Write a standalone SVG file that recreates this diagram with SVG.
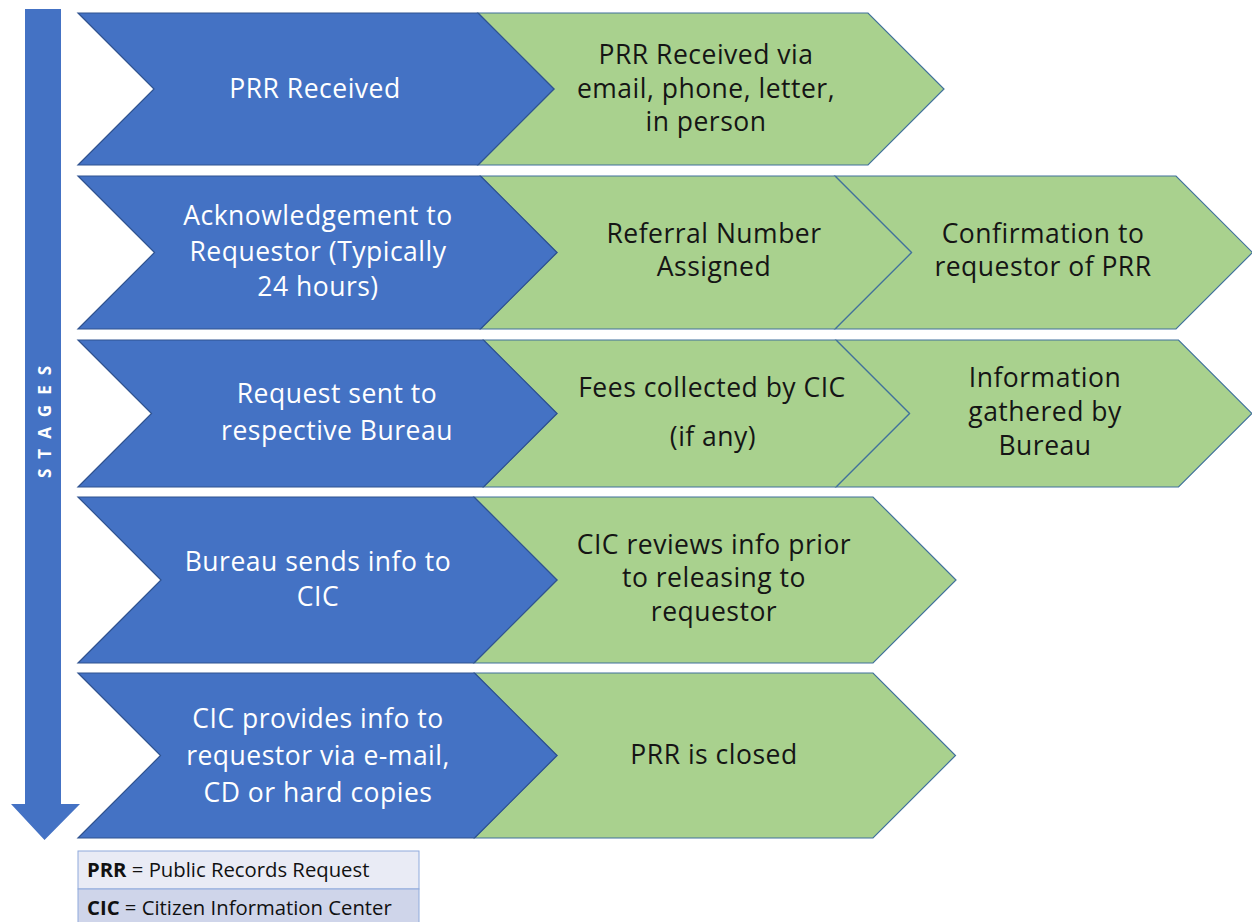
<svg xmlns="http://www.w3.org/2000/svg" width="1252" height="922" viewBox="0 0 1252 922">
<style>
.blue{fill:#4472c4;stroke:#2f528f;stroke-width:1.2}
.green{fill:#a9d18e;stroke:#41719c;stroke-width:1.2}
.wt{font-family:"Open Sans","Liberation Sans",sans-serif;font-size:26.5px;letter-spacing:0.5px;fill:#ffffff;text-anchor:middle}
.bt{font-family:"Open Sans","Liberation Sans",sans-serif;font-size:26.5px;letter-spacing:0.5px;fill:#151515;text-anchor:middle}
.lg{font-family:"Open Sans","Liberation Sans",sans-serif;font-size:20.3px;fill:#111}
</style>
<rect width="1252" height="922" fill="#ffffff"/>
<g id="stages">
<polygon points="25,9 61,9 61,804 80,804 44.5,840 11,804 25,804" fill="#4472c4"/>
<text transform="translate(44 417) rotate(-90)" x="0" y="0" font-family="Open Sans,Liberation Sans,sans-serif" font-size="17" font-weight="bold" fill="#ffffff" text-anchor="middle" dominant-baseline="central" letter-spacing="10">STAGES</text>
</g>
<g id="connectors"></g>
<g id="row1">
<polygon class="green" points="478,13 868,13 944,89 868,165 478,165 554,89"/>
<polygon class="blue" points="78,13 478,13 554,89 478,165 78,165 154,89"/>
<text class="wt" x="315" y="98">PRR Received</text>
<text class="bt" x="706" y="64">PRR Received via</text>
<text class="bt" x="706" y="98">email, phone, letter,</text>
<text class="bt" x="706" y="131">in person</text>
</g>
<g id="row2">
<polygon class="green" points="835,176 1176,176 1252.5,252.5 1176,329 835,329 911.5,252.5"/>
<polygon class="green" points="480.5,176 835,176 911.5,252.5 835,329 480.5,329 557,252.5"/>
<polygon class="blue" points="78,176 480.5,176 557,252.5 480.5,329 78,329 154.5,252.5"/>
<text class="wt" x="318" y="225">Acknowledgement to</text>
<text class="wt" x="318" y="261">Requestor (Typically</text>
<text class="wt" x="318" y="296">24 hours)</text>
<text class="bt" x="714" y="243">Referral Number</text>
<text class="bt" x="714" y="276">Assigned</text>
<text class="bt" x="1043" y="243">Confirmation to</text>
<text class="bt" x="1043" y="276">requestor of PRR</text>
</g>
<g id="row3">
<polygon class="green" points="836,340 1178.5,340 1252,413.5 1178.5,487 836,487 909.5,413.5"/>
<polygon class="green" points="483.5,340 836,340 909.5,413.5 836,487 483.5,487 557,413.5"/>
<polygon class="blue" points="78,340 483.5,340 557,413.5 483.5,487 78,487 151.5,413.5"/>
<text class="wt" x="337" y="403">Request sent to</text>
<text class="wt" x="337" y="440">respective Bureau</text>
<text class="bt" x="712" y="397">Fees collected by CIC</text>
<text class="bt" x="713" y="446">(if any)</text>
<text class="bt" x="1045" y="387">Information</text>
<text class="bt" x="1045" y="421">gathered by</text>
<text class="bt" x="1045" y="455">Bureau</text>
</g>
<g id="row4">
<polygon class="green" points="474,497 873,497 956,580 873,663 474,663 557,580"/>
<polygon class="blue" points="78,497 474,497 557,580 474,663 78,663 161,580"/>
<text class="wt" x="318" y="571">Bureau sends info to</text>
<text class="wt" x="318" y="606">CIC</text>
<text class="bt" x="714" y="554">CIC reviews info prior</text>
<text class="bt" x="714" y="587">to releasing to</text>
<text class="bt" x="714" y="621">requestor</text>
</g>
<g id="row5">
<polygon class="green" points="474.5,673 873,673 955.5,755.5 873,838 474.5,838 557,755.5"/>
<polygon class="blue" points="78,673 474.5,673 557,755.5 474.5,838 78,838 160.5,755.5"/>
<text class="wt" x="318" y="728">CIC provides info to</text>
<text class="wt" x="318" y="765">requestor via e-mail,</text>
<text class="wt" x="318" y="802">CD or hard copies</text>
<text class="bt" x="714" y="764">PRR is closed</text>
</g>
<g id="legend">
<rect x="78" y="851" width="341" height="38" fill="#e9ebf5" stroke="#8faadc" stroke-width="1"/>
<rect x="78" y="889" width="341" height="40" fill="#cfd5ea" stroke="#8faadc" stroke-width="1"/>
<text class="lg" x="87" y="877"><tspan font-weight="bold">PRR</tspan> = Public Records Request</text>
<text class="lg" x="87" y="915"><tspan font-weight="bold">CIC</tspan> = Citizen Information Center</text>
</g>
</svg>
